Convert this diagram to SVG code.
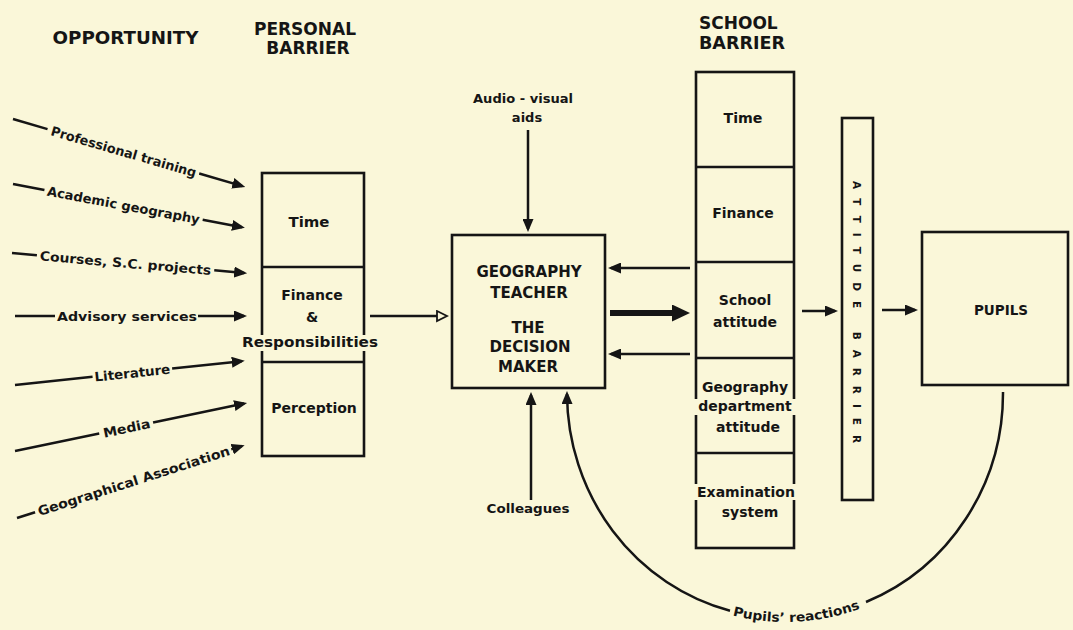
<svg xmlns="http://www.w3.org/2000/svg" width="1073" height="630" viewBox="0 0 1073 630">
<style>
.t{font-family:"DejaVu Sans","Liberation Sans",sans-serif;font-weight:bold;fill:#151515}
.hd{font-size:17px}
.lb{font-size:13px}
.bx{font-size:14px}
.tc{font-size:15px}
.m{text-anchor:middle}
.box{fill:none;stroke:#151515;stroke-width:2.6}
.ln{fill:none;stroke:#151515;stroke-width:2.5}
.bg{fill:#FAF7D9}
</style>
<defs>
<marker id="ah" viewBox="0 0 13 11" markerWidth="13" markerHeight="11" refX="10" refY="5.5" orient="auto" markerUnits="userSpaceOnUse"><path d="M0,0 L13,5.5 L0,11 Z" fill="#151515"/></marker>
<marker id="oh" viewBox="0 0 13 13" markerWidth="13" markerHeight="13" refX="1.5" refY="6.5" orient="auto" markerUnits="userSpaceOnUse"><path d="M1.5,1.5 L11.5,6.5 L1.5,11.5 Z" fill="#FAF7D9" stroke="#151515" stroke-width="1.8"/></marker>
<marker id="th" viewBox="0 0 18 17" markerWidth="18" markerHeight="17" refX="2" refY="8.5" orient="auto" markerUnits="userSpaceOnUse"><path d="M0,0 L18,8.5 L0,17 Z" fill="#151515"/></marker>
<path id="prpath" d="M563,393 A222,229 0 0 0 1007,393"/>
</defs>
<rect width="1073" height="630" fill="#FAF7D9"/>

<g id="headers">
<text class="t hd m" x="125.5" y="44" textLength="146" lengthAdjust="spacingAndGlyphs">OPPORTUNITY</text>
<text class="t hd m" x="305" y="35">PERSONAL</text>
<text class="t hd m" x="308" y="54">BARRIER</text>
<text class="t hd" x="699" y="29">SCHOOL</text>
<text class="t hd" x="699" y="49" textLength="86" lengthAdjust="spacingAndGlyphs">BARRIER</text>
</g>

<g id="opp-professional-training" transform="translate(13,119) rotate(16.3)">
<path class="ln" d="M0,0 H36"/>
<text class="t lb" x="40" y="5" textLength="151" lengthAdjust="spacingAndGlyphs">Professional training</text>
<path class="ln" d="M194,0 H239" marker-end="url(#ah)"/>
</g>
<g id="opp-academic-geography" transform="translate(13,184) rotate(10.7)">
<path class="ln" d="M0,0 H32"/>
<text class="t lb" x="35" y="5" textLength="155" lengthAdjust="spacingAndGlyphs">Academic geography</text>
<path class="ln" d="M193,0 H233" marker-end="url(#ah)"/>
</g>
<g id="opp-courses" transform="translate(12,253) rotate(4.9)">
<path class="ln" d="M0,0 H25"/>
<text class="t lb" x="28" y="5" textLength="172" lengthAdjust="spacingAndGlyphs">Courses, S.C. projects</text>
<path class="ln" d="M203,0 H233" marker-end="url(#ah)"/>
</g>
<g id="opp-advisory-services" transform="translate(15,316)">
<path class="ln" d="M0,0 H40"/>
<text class="t lb" x="42" y="5" textLength="140" lengthAdjust="spacingAndGlyphs">Advisory services</text>
<path class="ln" d="M183,0 H229" marker-end="url(#ah)"/>
</g>
<g id="opp-literature" transform="translate(15,385) rotate(-6)">
<path class="ln" d="M0,0 H78"/>
<text class="t lb" x="80" y="5" textLength="76" lengthAdjust="spacingAndGlyphs">Literature</text>
<path class="ln" d="M158,0 H228" marker-end="url(#ah)"/>
</g>
<g id="opp-media" transform="translate(15,451) rotate(-11.7)">
<path class="ln" d="M0,0 H86"/>
<text class="t lb" x="90" y="5" textLength="48" lengthAdjust="spacingAndGlyphs">Media</text>
<path class="ln" d="M141,0 H234" marker-end="url(#ah)"/>
</g>
<g id="opp-geographical-association" transform="translate(17,518) rotate(-17.75)">
<path class="ln" d="M0,0 H19"/>
<text class="t lb" x="22" y="5" textLength="201" lengthAdjust="spacingAndGlyphs">Geographical Association</text>
<path class="ln" d="M225,0 H236" marker-end="url(#ah)"/>
</g>

<g id="personal-barrier">
<rect class="box" x="262" y="173" width="102" height="283"/>
<path class="box" d="M262,267 H364 M262,362 H364"/>
<rect class="bg" x="240" y="335" width="140" height="16"/>
<text class="t bx m" x="309" y="227" textLength="41" lengthAdjust="spacingAndGlyphs">Time</text>
<text class="t bx m" x="312" y="300">Finance</text>
<text class="t bx m" x="312" y="322">&amp;</text>
<text class="t bx m" x="310" y="347" textLength="136" lengthAdjust="spacingAndGlyphs">Responsibilities</text>
<text class="t bx m" x="314" y="413">Perception</text>
</g>

<g id="geography-teacher">
<rect class="box" x="452" y="235" width="153" height="153"/>
<text class="t tc m" x="529" y="277">GEOGRAPHY</text>
<text class="t tc m" x="529" y="298">TEACHER</text>
<text class="t tc m" x="528" y="333">THE</text>
<text class="t tc m" x="530" y="352">DECISION</text>
<text class="t tc m" x="528" y="372">MAKER</text>
</g>

<g id="audio-visual-aids">
<text class="t lb m" x="523" y="103" textLength="100" lengthAdjust="spacingAndGlyphs">Audio - visual</text>
<text class="t lb m" x="527" y="122">aids</text>
</g>

<g id="colleagues">
<text class="t lb m" x="528" y="513" textLength="83" lengthAdjust="spacingAndGlyphs">Colleagues</text>
</g>

<g id="school-barrier">
<rect class="box" x="696" y="72" width="98" height="476"/>
<path class="box" d="M696,167 H794 M696,262 H794 M696,358 H794 M696,453 H794"/>
<rect class="bg" x="694" y="399" width="102" height="16"/>
<rect class="bg" x="694" y="484" width="104" height="16"/>
<text class="t bx m" x="743" y="123" textLength="39" lengthAdjust="spacingAndGlyphs">Time</text>
<text class="t bx m" x="743" y="218">Finance</text>
<text class="t bx m" x="745" y="305">School</text>
<text class="t bx m" x="745" y="327">attitude</text>
<text class="t bx m" x="745" y="392">Geography</text>
<text class="t bx m" x="745" y="411">department</text>
<text class="t bx m" x="748" y="432">attitude</text>
<text class="t bx m" x="746" y="497">Examination</text>
<text class="t bx m" x="750" y="517">system</text>
</g>

<g id="attitude-barrier">
<rect class="box" x="842" y="118" width="31" height="382"/>
<text class="t m" style="font-size:10.5px" transform="translate(857,312) rotate(90)" y="3.8" textLength="262" lengthAdjust="spacing">ATTITUDE BARRIER</text>
</g>

<g id="pupils">
<rect class="box" x="922" y="232" width="146" height="153"/>
<text class="t m" style="font-size:13.5px" x="1001" y="315">PUPILS</text>
</g>

<g id="connectors">
<path class="ln" d="M370,316 H437" marker-end="url(#oh)"/>
<path class="ln" d="M528,130 V229" marker-end="url(#ah)"/>
<path class="ln" d="M531,500 V395" marker-end="url(#ah)"/>
<path class="ln" d="M690,268 H611" marker-end="url(#ah)"/>
<path fill="none" stroke="#151515" stroke-width="6" d="M610,313 H674" marker-end="url(#th)"/>
<path class="ln" d="M690,354 H611" marker-end="url(#ah)"/>
<path class="ln" d="M802,311 H835" marker-end="url(#ah)"/>
<path class="ln" d="M882,310 H915" marker-end="url(#ah)"/>
<path class="ln" d="M1003,392 A218,225 0 0 1 866,602"/>
<path class="ln" d="M730,610.7 A218,225 0 0 1 567,394" marker-end="url(#ah)"/>
<text class="t" style="font-size:13px"><textPath href="#prpath" startOffset="366" text-anchor="middle" textLength="130" lengthAdjust="spacingAndGlyphs">Pupils’ reactions</textPath></text>
</g>
</svg>
